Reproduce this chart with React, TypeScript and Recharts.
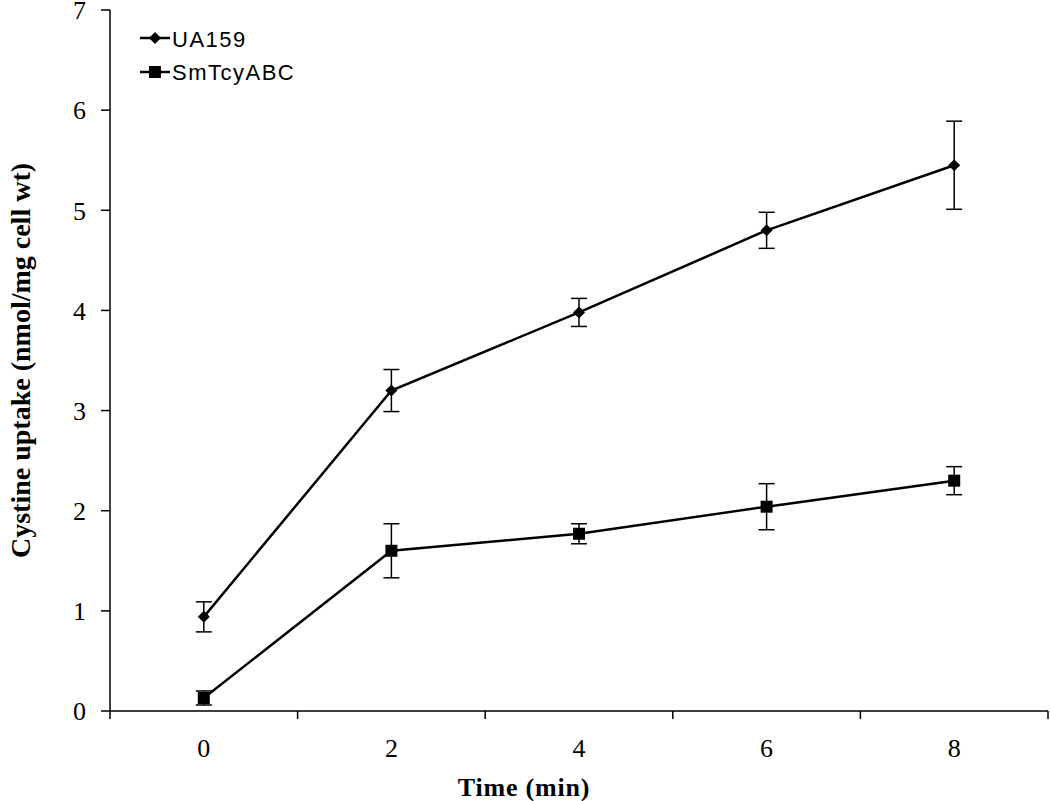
import { LineChart, Line, XAxis, YAxis, ErrorBar } from "recharts";

const times = [0, 2, 4, 6, 8];
const ua159 = [0.94, 3.2, 3.98, 4.8, 5.45];
const ua159Err = [0.15, 0.21, 0.14, 0.18, 0.44];
const smTcy = [0.13, 1.6, 1.77, 2.04, 2.3];
const smTcyErr = [0.07, 0.27, 0.1, 0.23, 0.14];
const xTicks = [-1, 0, 1, 2, 3, 4, 5, 6, 7, 8, 9];
const yTicks = [0, 1, 2, 3, 4, 5, 6, 7];

const data = times.map((t, i) => ({
    time: t,
    ua: ua159[i],
    uaErr: ua159Err[i],
    sm: smTcy[i],
    smErr: smTcyErr[i],
}));

const serif = "'Liberation Serif', 'Times New Roman', serif";
const sans = "'Liberation Sans', Arial, sans-serif";

const Diamond = (props: any) => {
    const { cx, cy } = props;
    if (cx == null || cy == null) return null;
    const r = 6;
    return (
        <polygon
            points={`${cx},${cy - r} ${cx + r},${cy} ${cx},${cy + r} ${cx - r},${cy}`}
            fill="#000"
        />
    );
};

const Square = (props: any) => {
    const { cx, cy } = props;
    if (cx == null || cy == null) return null;
    const s = 12;
    return <rect x={cx - s / 2} y={cy - s / 2} width={s} height={s} fill="#000" />;
};

// even values get a label, odd values get a tick mark between categories
const XTick = (props: any) => {
    const { x, y, payload } = props;
    const v = payload.value;
    if (Math.abs(v) % 2 === 1) {
        return <line x1={x} x2={x} y1={y - 8} y2={y} stroke="#000" strokeWidth={1.5} />;
    }
    return (
        <text x={x} y={y + 38} textAnchor="middle" fontFamily={serif} fontSize={26} fill="#000">
            {v}
        </text>
    );
};

const LegendBox = () => (
    <svg
        width={200}
        height={70}
        style={{ position: "absolute", left: 140, top: 26, pointerEvents: "none" }}
    >
        <line x1={0} x2={30} y1={12} y2={12} stroke="#000" strokeWidth={2.5} />
        <Diamond cx={15} cy={12} />
        <text x={32} y={21} fontFamily={sans} fontSize={22} letterSpacing={1.5} fill="#000">
            UA159
        </text>
        <line x1={0} x2={30} y1={46} y2={46} stroke="#000" strokeWidth={2.5} />
        <Square cx={15} cy={46} />
        <text x={32} y={54} fontFamily={sans} fontSize={22} letterSpacing={1.5} fill="#000">
            SmTcyABC
        </text>
    </svg>
);

const App = () => {
    return (
        <div style={{ position: "absolute", left: 0, top: 0, background: "#fff" }}>
            <LineChart
                width={1050}
                height={801}
                data={data}
                margin={{ top: 10, right: 2, left: 0, bottom: 0 }}
            >
                <XAxis
                    dataKey="time"
                    type="number"
                    domain={[-1, 9]}
                    ticks={xTicks}
                    interval={0}
                    tickLine={false}
                    axisLine={{ stroke: "#000", strokeWidth: 1.5 }}
                    tick={<XTick />}
                    height={90}
                    label={{
                        value: "Time (min)",
                        position: "insideBottom",
                        offset: 5,
                        dx: -55,
                        style: {
                            fontFamily: serif,
                            fontSize: 26,
                            fontWeight: "bold",
                            letterSpacing: 0.8,
                            fill: "#000",
                        },
                    }}
                />
                <YAxis
                    type="number"
                    domain={[0, 7]}
                    ticks={yTicks}
                    interval={0}
                    width={110}
                    tickSize={9}
                    tickMargin={15}
                    axisLine={{ stroke: "#000", strokeWidth: 1.5 }}
                    tickLine={{ stroke: "#000", strokeWidth: 1.5 }}
                    tick={{ fontFamily: serif, fontSize: 26, fill: "#000" }}
                    label={{
                        value: "Cystine uptake (nmol/mg cell wt)",
                        angle: -90,
                        position: "insideLeft",
                        offset: 20,
                        style: {
                            fontFamily: serif,
                            fontSize: 28,
                            fontWeight: "bold",
                            fill: "#000",
                            textAnchor: "middle",
                        },
                    }}
                />
                <Line
                    dataKey="ua"
                    stroke="#000"
                    strokeWidth={2.5}
                    dot={<Diamond />}
                    activeDot={false}
                    isAnimationActive={false}
                >
                    <ErrorBar dataKey="uaErr" width={8} stroke="#000" strokeWidth={1.5} direction="y" />
                </Line>
                <Line
                    dataKey="sm"
                    stroke="#000"
                    strokeWidth={2.5}
                    dot={<Square />}
                    activeDot={false}
                    isAnimationActive={false}
                >
                    <ErrorBar dataKey="smErr" width={8} stroke="#000" strokeWidth={1.5} direction="y" />
                </Line>
            </LineChart>
            <LegendBox />
        </div>
    );
};

export default App;
